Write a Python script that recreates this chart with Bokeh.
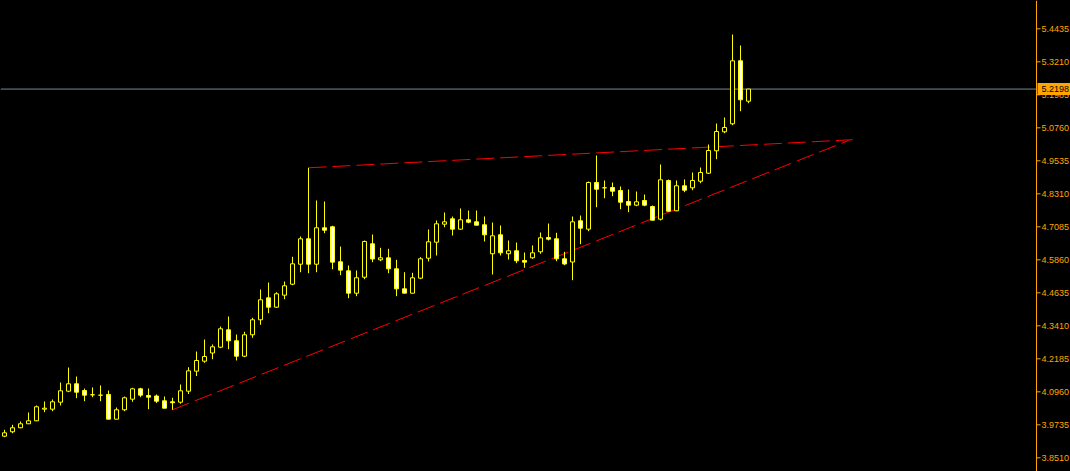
from bokeh.plotting import figure
from bokeh.models import Range1d, ColumnDataSource
from bokeh.core.properties import value
from bokeh.embed import file_html
from bokeh.resources import INLINE

# ---- data (price values) ----
opens = [3.9313, 3.9476, 3.9625, 3.9773, 3.9884, 4.0315, 4.0315, 4.0575, 4.0983, 4.1258,
         4.1009, 4.0850, 4.0835, 4.0861, 3.9944, 4.0293, 4.0686, 4.1072, 4.0824, 4.0805,
         4.0627, 4.0590, 4.0575, 4.0983, 4.1726, 4.2097, 4.2401, 4.2616, 4.3262, 4.2854,
         4.2282, 4.3077, 4.3634, 4.4450, 4.4101, 4.4547, 4.4955, 4.5697, 4.6640, 4.5697,
         4.7049, 4.7086, 4.5787, 4.5452, 4.4621, 4.5215, 4.6455, 4.5861, 4.5935, 4.5527,
         4.4784, 4.4621, 4.5178, 4.5920, 4.6514, 4.7182, 4.7383, 4.6997, 4.7346, 4.7271,
         4.7160, 4.6084, 4.6789, 4.6084, 4.6195, 4.5835, 4.5935, 4.6158, 4.6689, 4.6640,
         4.5898, 4.5779, 4.7308, 4.6997, 4.8730, 4.8533, 4.8545, 4.8433, 4.8025, 4.7888,
         4.8062, 4.7839, 4.7368, 4.8804, 4.7680, 4.8608, 4.8533, 4.8778, 4.9075, 4.9907,
         5.0612, 5.0909, 5.3248, 5.1748]
highs = [3.9550, 3.9736, 3.9858, 4.0193, 4.0452, 4.0601, 4.0675, 4.1306, 4.1863, 4.1529,
         4.1083, 4.1121, 4.1195, 4.1009, 4.0378, 4.0786, 4.1109, 4.1109, 4.1083, 4.0861,
         4.0786, 4.0738, 4.1232, 4.1874, 4.2457, 4.2902, 4.2717, 4.3385, 4.3756, 4.3088,
         4.3188, 4.3708, 4.4758, 4.5018, 4.4658, 4.5055, 4.5972, 4.6726, 4.9276, 4.8062,
         4.8025, 4.7123, 4.6354, 4.5649, 4.5464, 4.6577, 4.6800, 4.6306, 4.6269, 4.5861,
         4.5400, 4.5378, 4.5957, 4.6986, 4.7320, 4.7617, 4.7468, 4.7765, 4.7691, 4.7691,
         4.7468, 4.7245, 4.7134, 4.6577, 4.6503, 4.6132, 4.6392, 4.6874, 4.7208, 4.6863,
         4.6158, 4.7468, 4.7505, 4.8767, 4.9732, 4.8804, 4.8730, 4.8582, 4.8470, 4.8396,
         4.8285, 4.7876, 4.9398, 4.8842, 4.8804, 4.8842, 4.9101, 4.9287, 5.0141, 5.0920,
         5.1143, 5.4224, 5.3816, 5.2198]
lows = [3.9276, 3.9424, 3.9610, 3.9773, 3.9870, 4.0204, 4.0241, 4.0452, 4.0946, 4.0723,
        4.0612, 4.0761, 4.0612, 3.9944, 3.9944, 4.0241, 4.0590, 4.0761, 4.0315, 4.0545,
        4.0352, 4.0293, 4.0516, 4.0879, 4.1547, 4.2037, 4.2171, 4.2579, 4.2542, 4.2123,
        4.2245, 4.2965, 4.3448, 4.3879, 4.4079, 4.4398, 4.4918, 4.5400, 4.5363, 4.5400,
        4.6848, 4.5512, 4.5289, 4.4435, 4.4510, 4.5141, 4.5772, 4.5809, 4.5363, 4.4510,
        4.4621, 4.4621, 4.5141, 4.5798, 4.6020, 4.7071, 4.6763, 4.6974, 4.7219, 4.7145,
        4.6540, 4.5315, 4.6020, 4.5872, 4.5735, 4.5564, 4.5898, 4.6084, 4.6577, 4.5809,
        4.5660, 4.5104, 4.6440, 4.6922, 4.7813, 4.8147, 4.8222, 4.7739, 4.7628, 4.7850,
        4.7850, 4.7320, 4.7320, 4.7654, 4.7665, 4.8370, 4.8444, 4.8704, 4.9046, 4.9595,
        5.0560, 5.0857, 5.1377, 5.1674]
closes = [3.9439, 3.9625, 3.9773, 3.9884, 4.0404, 4.0352, 4.0590, 4.0998, 4.1258, 4.0946,
          4.0835, 4.0850, 4.0835, 3.9944, 4.0293, 4.0738, 4.1072, 4.0835, 4.0761, 4.0612,
          4.0352, 4.0553, 4.0998, 4.1738, 4.2123, 4.2271, 4.2631, 4.3300, 4.2854, 4.2282,
          4.3077, 4.3634, 4.4376, 4.4101, 4.4599, 4.4896, 4.5712, 4.6640, 4.5697, 4.7049,
          4.6960, 4.5772, 4.5475, 4.4621, 4.5193, 4.6540, 4.5890, 4.5935, 4.5527, 4.4784,
          4.4621, 4.5193, 4.5898, 4.6529, 4.7197, 4.7271, 4.6997, 4.7346, 4.7256, 4.7145,
          4.6789, 4.6752, 4.6121, 4.6195, 4.5824, 4.5772, 4.6121, 4.6677, 4.6625, 4.5898,
          4.5705, 4.7271, 4.7034, 4.8730, 4.8481, 4.8533, 4.8407, 4.7999, 4.7888, 4.8014,
          4.7888, 4.7331, 4.8830, 4.7665, 4.8608, 4.8444, 4.8804, 4.9101, 4.9918, 5.0623,
          5.0772, 5.3248, 5.1800, 5.2198]

yticks = [3.8510, 3.9735, 4.0960, 4.2185, 4.3410, 4.4635, 4.5860, 4.7085,
          4.8310, 4.9535, 5.0760, 5.1985, 5.3210, 5.4435]
ytick_labels = ["3.8510", "3.9735", "4.0960", "4.2185", "4.3410", "4.4635", "4.5860",
                "4.7085", "4.8310", "4.9535", "5.0760", "5.1985", "5.3210", "5.4435"]
bid_price = 5.2198
bid_label = "5.2198"

# trend lines: (bar index, price) end points
upper_x = [38, 106]
upper_y = [4.9276, 5.0319]
lower_x = [21, 105.5]
lower_y = [4.0293, 5.0289]

# ---- layout constants (pixels) ----
W, H = 1070, 471
PX = 8.0                      # pixels per bar
X0 = -0.5                     # bar index at the left edge
Y_LO, Y_HI = 3.8002, 5.5486   # price range of the window height


def xpix(px):
    """bar-index coordinate of a horizontal pixel position"""
    return X0 + px / PX


idx = list(range(len(opens)))
tops = [max(o, c) for o, c in zip(opens, closes)]
bots = [min(o, c) for o, c in zip(opens, closes)]
fills = ["#000000" if c >= o else "#FFFFFF" for o, c in zip(opens, closes)]
src = ColumnDataSource(dict(x=idx, o=opens, h=highs, l=lows, c=closes,
                            top=tops, bot=bots, fill=fills))

p = figure(width=W, height=H, output_backend="svg", toolbar_location=None,
           x_range=Range1d(X0, X0 + W / PX), y_range=Range1d(Y_LO, Y_HI),
           background_fill_color="#000000", border_fill_color="#000000",
           min_border=0, x_axis_location=None, y_axis_location=None)
p.grid.visible = False
p.outline_line_color = None

ORANGE = "#FFA500"

# bid line (stops at the price scale)
p.segment(x0=[X0], y0=[bid_price], x1=[xpix(1036)], y1=[bid_price],
          line_color="#778899", line_width=1)

# trend lines
p.line(upper_x, upper_y, line_color="#FF0000", line_width=1, line_dash="18 6")
p.line(lower_x, lower_y, line_color="#FF0000", line_width=1, line_dash="18 6")

# candles
p.segment(x0="x", y0="l", x1="x", y1="h", source=src, line_color="#FFFF00", line_width=1)
p.vbar(x="x", width=0.5, top="top", bottom="bot", source=src,
       fill_color="fill", line_color="#FFFF00", line_width=1)

# price scale on the right (axis line, ticks, labels)
p.segment(x0=[xpix(1036)], y0=[Y_LO], x1=[xpix(1036)], y1=[Y_HI],
          line_color=ORANGE, line_width=1)
p.segment(x0=[xpix(1036)] * len(yticks), y0=yticks, x1=[xpix(1040)] * len(yticks), y1=yticks,
          line_color=ORANGE, line_width=1)
p.text(x=[xpix(1041)] * len(yticks), y=yticks, text=ytick_labels,
       text_color=ORANGE, text_font=value("Liberation Sans"), text_font_size="9px",
       text_align="left", text_baseline="middle")

# current price marker on the scale
p.rect(x=[xpix(1053.5)], y=[bid_price], width=33, height=12,
       width_units="screen", height_units="screen",
       fill_color=ORANGE, line_color=None)
p.text(x=[xpix(1041)], y=[bid_price], text=[bid_label],
       text_color="#000000", text_font=value("Liberation Sans"), text_font_size="9px",
       text_align="left", text_baseline="middle")

html = file_html(p, INLINE)
html = html.replace("</head>",
                    "<style>html,body{margin:0;padding:0;background:#000000;overflow:hidden;}</style></head>", 1)
open("out.html", "w").write(html)
